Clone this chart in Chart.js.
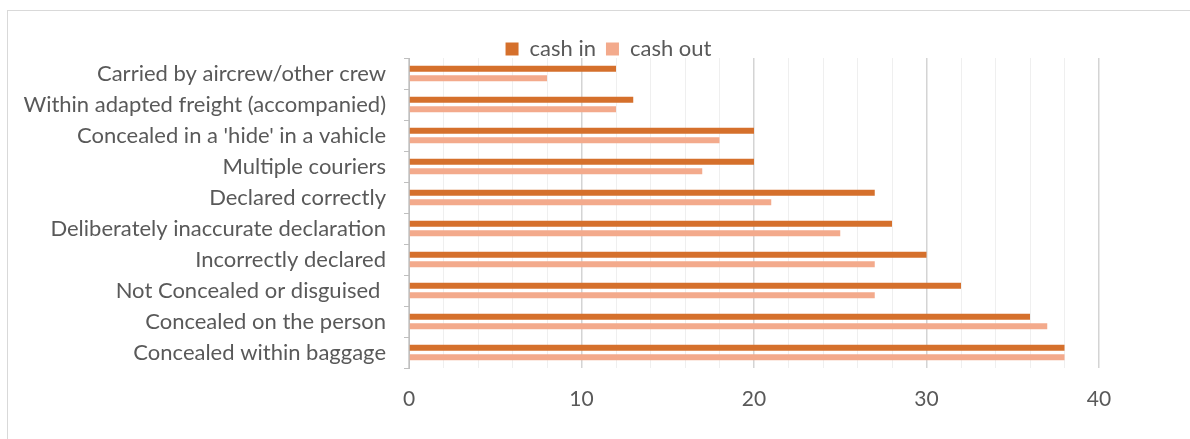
<!DOCTYPE html>
<html>
<head>
<meta charset="utf-8">
<script src="https://cdn.jsdelivr.net/npm/chart.js@4"></script>
<style>
  html, body { margin: 0; padding: 0; background: #fff; }
  #frame { position: absolute; left: 7px; top: 10px; width: 1300px; height: 500px; border: 1px solid #d9d9d9; }
  #wrap { position: absolute; left: 0; top: 0; width: 1190px; height: 439px; }
</style>
</head>
<body>
<div id="frame"></div>
<div id="wrap"><canvas id="myChart" width="1190" height="439"></canvas></div>
<script>
const categories = [
  "Carried by aircrew/other crew",
  "Within adapted freight (accompanied)",
  "Concealed in a 'hide' in a vahicle",
  "Multiple couriers",
  "Declared correctly",
  "Deliberately inaccurate declaration",
  "Incorrectly declared",
  "Not Concealed or disguised ",
  "Concealed on the person",
  "Concealed within baggage"
];
const cashIn = [12, 13, 20, 20, 27, 28, 30, 32, 36, 38];
const cashOut = [8, 12, 18, 17, 21, 25, 27, 27, 37, 38];
const xTickLabels = [0, 10, 20, 30, 40];

Chart.defaults.font.family = "Lato, sans-serif";
Chart.defaults.color = "#595959";

// legend sits close to the plot and a bit right of centre, as in the original
const tightLegend = {
  id: 'tightLegend',
  afterInit(chart) {
    const lg = chart.legend;
    const fit = lg.fit;
    lg.fit = function () { fit.call(this); this.height -= 12; };
  },
  afterLayout(chart) {
    chart.legend.left += 59;
    chart.legend.right += 59;
  }
};

const ctx = document.getElementById("myChart").getContext("2d");
const barChart = new Chart(ctx, {
  type: 'bar',
  data: {
    labels: categories,
    datasets: [{
      label: 'cash in',
      data: cashIn,
      backgroundColor: '#d5702c',
      categoryPercentage: 0.6,
      barPercentage: 0.65
    }, {
      label: 'cash out',
      data: cashOut,
      backgroundColor: '#f3aa8c',
      categoryPercentage: 0.6,
      barPercentage: 0.65
    }]
  },
  plugins: [tightLegend],
  options: {
    indexAxis: 'y',
    responsive: false,
    animation: false,
    layout: { padding: { top: 28, right: 91, bottom: 0, left: 0 } },
    plugins: {
      tooltip: { enabled: false },
      legend: {
        position: 'top',
        labels: {
          boxWidth: 13,
          boxHeight: 13,
          padding: 10,
          font: { size: 22, lineHeight: 1 },
          color: '#595959'
        }
      }
    },
    scales: {
      x: {
        min: 0,
        max: 40,
        afterFit: (scale) => { scale.height = 71; },
        border: { display: false },
        grid: {
          drawTicks: false,
          color: (c) => (c.tick && c.tick.value % 10 === 0) ? '#d4d4d4' : '#efefef',
          lineWidth: (c) => (c.tick && c.tick.value % 10 === 0) ? 1.5 : 1
        },
        ticks: {
          stepSize: 2,
          autoSkip: false,
          maxRotation: 0,
          padding: 19,
          font: { size: 21 },
          callback: (v) => xTickLabels.includes(v) ? String(v) : ''
        }
      },
      y: {
        afterFit: (scale) => { scale.width = 409; },
        border: { display: true, color: '#bfbfbf' },
        grid: {
          drawOnChartArea: false,
          drawTicks: true,
          tickLength: 5,
          tickColor: '#bfbfbf'
        },
        ticks: {
          padding: 18,
          autoSkip: false,
          font: { size: 22 }
        }
      }
    }
  }
});
</script>
</body>
</html>
